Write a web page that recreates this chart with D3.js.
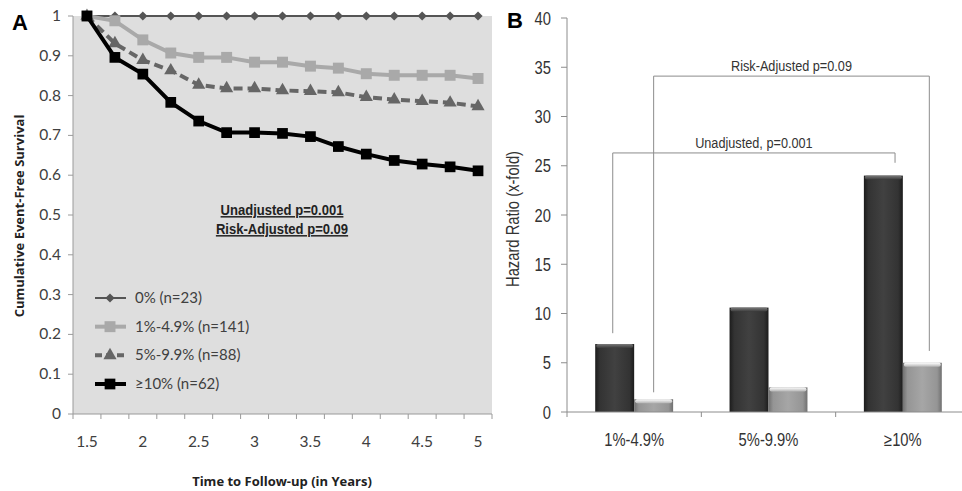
<!DOCTYPE html>
<html>
<head>
<meta charset="utf-8">
<script src="https://cdn.jsdelivr.net/npm/d3@7"></script>
<style>
  body { margin: 0; background: #fff; }
  .chart { width: 962px; height: 491px; }
  .a text { font-family: Lato, "Open Sans", sans-serif; }
  .b text, text.narrow { font-family: "Liberation Sans", Arial, sans-serif; }
</style>
</head>
<body>
<div class="chart"></div>
<script>
// Panel A data: event-free survival by category of time
var timePoints = ["1.5","1.75","2","2.25","2.5","2.75","3","3.25","3.5","3.75","4","4.25","4.5","4.75","5"];
var timeTickLabels = ["1.5","2","2.5","3","3.5","4","4.5","5"];
var survTicks = [0,0.1,0.2,0.3,0.4,0.5,0.6,0.7,0.8,0.9,1];

var surv0  = [1,1,1,1,1,1,1,1,1,1,1,1,1,1,1];
var surv1  = [1,0.988,0.94,0.907,0.896,0.896,0.884,0.884,0.874,0.869,0.855,0.851,0.851,0.851,0.843];
var surv5  = [1,0.931,0.889,0.863,0.827,0.818,0.818,0.813,0.811,0.808,0.796,0.79,0.786,0.782,0.773];
var surv10 = [1,0.896,0.854,0.783,0.736,0.707,0.707,0.705,0.697,0.672,0.653,0.637,0.628,0.621,0.611];
var seriesNames = ["0% (n=23)","1%-4.9% (n=141)","5%-9.9% (n=88)","\u226510% (n=62)"];

// Panel B data: hazard ratios
var hrGroups = ["1%-4.9%","5%-9.9%","\u226510%"];
var hrUnadjusted = [6.9,10.6,24.0];
var hrAdjusted = [1.3,2.5,5.0];
var hrTicks = [0,5,10,15,20,25,30,35,40];
// brackets: [top, left leg end, right leg end]
var unadjBracket = [26.3,8.0,25.3];
var adjBracket = [34.1,2.0,6.2];

const svg = d3.select(".chart").append("svg")
  .attr("width", 962)
  .attr("height", 491);

// condensed text (no narrow font installed, so squeeze Liberation Sans)
function narrow(g, x, y, size, txt, rot, sx){
  return g.append("text")
    .attr("class","narrow")
    .attr("transform", "translate("+x+","+y+") rotate("+(rot||0)+") scale("+(sx||0.82)+",1)")
    .attr("font-size", size)
    .attr("fill", "#333")
    .text(txt);
}

// ---------- Panel A ----------
var gA = svg.append("g").attr("class","a");
var plotA = {left:73, right:492, top:16, bottom:414};

var xA = d3.scaleBand()
        .domain(timePoints)
        .range([plotA.left, plotA.right]);
var yA = d3.scaleLinear()
        .domain([0,1])
        .range([plotA.bottom, plotA.top]);

gA.append("rect")
  .attr("x", plotA.left).attr("y", plotA.top)
  .attr("width", plotA.right-plotA.left).attr("height", plotA.bottom-plotA.top)
  .attr("fill", "#dedede");

// y axis
gA.append("line")
  .attr("x1", plotA.left).attr("x2", plotA.left)
  .attr("y1", plotA.top).attr("y2", plotA.bottom)
  .attr("stroke", "#9a9a9a");
gA.selectAll("line.ytick").data(survTicks).enter().append("line")
  .attr("class","ytick")
  .attr("x1", plotA.left-5).attr("x2", plotA.left)
  .attr("y1", function(d){return yA(d);}).attr("y2", function(d){return yA(d);})
  .attr("stroke", "#9a9a9a");
gA.selectAll("text.ylab").data(survTicks).enter().append("text")
  .attr("class","ylab")
  .attr("x", 61)
  .attr("y", function(d){return yA(d)+5;})
  .attr("text-anchor","end")
  .attr("font-size", 15.5)
  .attr("fill", "#404040")
  .text(function(d){return d;});

// x axis
gA.append("line")
  .attr("x1", plotA.left).attr("x2", plotA.right)
  .attr("y1", plotA.bottom).attr("y2", plotA.bottom)
  .attr("stroke", "#9a9a9a");
gA.selectAll("line.xtick").data(timePoints.concat(["end"])).enter().append("line")
  .attr("class","xtick")
  .attr("x1", function(d,i){return plotA.left + i*xA.step();})
  .attr("x2", function(d,i){return plotA.left + i*xA.step();})
  .attr("y1", plotA.bottom).attr("y2", plotA.bottom+5)
  .attr("stroke", "#9a9a9a");
gA.selectAll("text.xlab").data(timeTickLabels).enter().append("text")
  .attr("class","xlab")
  .attr("x", function(d){return xA(d)+xA.bandwidth()/2;})
  .attr("y", 447)
  .attr("text-anchor","middle")
  .attr("font-size", 15.5)
  .attr("fill", "#404040")
  .text(function(d){return d;});

gA.append("text")
  .attr("x", 282).attr("y", 486)
  .attr("text-anchor","middle")
  .attr("font-size", 13).attr("font-weight","bold")
  .attr("fill", "#222")
  .style("font-family", "'Open Sans',sans-serif")
  .text("Time to Follow-up (in Years)");
gA.append("text")
  .attr("transform", "translate(24,216) rotate(-90)")
  .attr("text-anchor","middle")
  .attr("font-size", 13).attr("font-weight","bold")
  .attr("fill", "#222")
  .style("font-family", "'Open Sans',sans-serif")
  .text("Cumulative Event-Free Survival");

// series styles
var seriesA = [
  {vals:surv0,  color:"#555555", width:2, dash:null,  sym:d3.symbolSquare,   size:42,  rot:45},
  {vals:surv1,  color:"#a9a9a9", width:4, dash:null,  sym:d3.symbolSquare,   size:120, rot:0},
  {vals:surv5,  color:"#666666", width:4, dash:"9,5", sym:d3.symbolTriangle, size:75,  rot:0},
  {vals:surv10, color:"#000000", width:4, dash:null,  sym:d3.symbolSquare,   size:115, rot:0}
];

var line = d3.line()
        .x(function(d,i){return xA(timePoints[i])+xA.bandwidth()/2;})
        .y(function(d){return yA(d);});

[0,1,2,3].forEach(function(k){
  var s = seriesA[k];
  gA.append("path")
    .attr("fill","none")
    .attr("stroke", s.color)
    .attr("stroke-width", s.width)
    .attr("stroke-dasharray", s.dash)
    .attr("d", line(s.vals));
  gA.selectAll("path.m"+k).data(s.vals).enter().append("path")
    .attr("class","m"+k)
    .attr("d", d3.symbol().type(s.sym).size(s.size))
    .attr("fill", s.color)
    .attr("transform", function(d,i){
      return "translate("+(xA(timePoints[i])+xA.bandwidth()/2)+","+yA(d)+") rotate("+s.rot+")";
    });
});

// legend
var legendY = d3.scalePoint().domain(seriesNames).range([298,384]);
seriesNames.forEach(function(name,k){
  var s = seriesA[k];
  var yy = legendY(name);
  gA.append("line")
    .attr("x1", 95).attr("x2", 126)
    .attr("y1", yy).attr("y2", yy)
    .attr("stroke", s.color)
    .attr("stroke-width", s.width)
    .attr("stroke-dasharray", s.dash ? "7,4" : null);
  gA.append("path")
    .attr("d", d3.symbol().type(s.sym).size(s.size))
    .attr("fill", s.color)
    .attr("transform", "translate(110,"+yy+") rotate("+s.rot+")");
  gA.append("text")
    .attr("x", 135).attr("y", yy+5)
    .attr("font-size", 15)
    .attr("fill", "#404040")
    .text(name);
});

// p-value notes
narrow(gA, 282, 215, 15, "Unadjusted p=0.001", 0, 0.87)
  .attr("text-anchor","middle").attr("font-weight","bold")
  .attr("text-decoration","underline").attr("fill","#222");
narrow(gA, 282, 234, 15, "Risk-Adjusted p=0.09", 0, 0.87)
  .attr("text-anchor","middle").attr("font-weight","bold")
  .attr("text-decoration","underline").attr("fill","#222");

gA.append("text")
  .attr("x", 12).attr("y", 30)
  .attr("font-size", 22).attr("font-weight","bold")
  .style("font-family", "'Liberation Sans',Arial,sans-serif")
  .text("A");

// ---------- Panel B ----------
var gB = svg.append("g").attr("class","b");
var plotB = {left:567, right:970, top:18, bottom:412};

var defs = svg.append("defs");
function hGrad(id, stops){
  var g = defs.append("linearGradient").attr("id", id)
    .attr("x1","0").attr("x2","1").attr("y1","0").attr("y2","0");
  stops.forEach(function(s){ g.append("stop").attr("offset", s[0]).attr("stop-color", s[1]); });
}
function vGrad(id, stops){
  var g = defs.append("linearGradient").attr("id", id)
    .attr("x1","0").attr("x2","0").attr("y1","0").attr("y2","1");
  stops.forEach(function(s){ g.append("stop").attr("offset", s[0]).attr("stop-color", s[1]); });
}
hGrad("darkBody", [[0,"#1c1c1c"],[0.12,"#333"],[0.5,"#414141"],[0.88,"#333"],[1,"#1c1c1c"]]);
vGrad("darkCap",  [[0,"#7a7a7a"],[1,"#3a3a3a"]]);
hGrad("lightBody",[[0,"#707070"],[0.12,"#959595"],[0.5,"#a6a6a6"],[0.88,"#959595"],[1,"#707070"]]);
vGrad("lightCap", [[0,"#ffffff"],[1,"#b5b5b5"]]);

var x0 = d3.scaleBand()
        .domain(hrGroups)
        .range([plotB.left, plotB.right]);
var x1 = d3.scaleBand()
        .domain(["unadj","adj"])
        .range([x0.bandwidth()*0.21, x0.bandwidth()*0.79]);
var yB = d3.scaleLinear()
        .domain([0,40])
        .range([plotB.bottom, plotB.top]);

var barData = [];
hrGroups.forEach(function(g,i){
  barData.push({group:g, key:"unadj", v:hrUnadjusted[i]});
  barData.push({group:g, key:"adj", v:hrAdjusted[i]});
});

var bars = gB.selectAll("g.bar").data(barData).enter().append("g").attr("class","bar");
bars.append("rect")
  .attr("x", function(d){return x0(d.group)+x1(d.key);})
  .attr("y", function(d){return yB(d.v);})
  .attr("width", x1.bandwidth())
  .attr("height", function(d){return yB(0)-yB(d.v);})
  .attr("fill", function(d){return d.key=="unadj" ? "url(#darkBody)" : "url(#lightBody)";});
bars.append("rect")
  .attr("x", function(d){return x0(d.group)+x1(d.key)+1;})
  .attr("y", function(d){return yB(d.v);})
  .attr("width", x1.bandwidth()-2)
  .attr("height", 4)
  .attr("rx", 2)
  .attr("fill", function(d){return d.key=="unadj" ? "url(#darkCap)" : "url(#lightCap)";});

// axes
gB.append("line")
  .attr("x1", plotB.left).attr("x2", plotB.left)
  .attr("y1", plotB.top).attr("y2", plotB.bottom)
  .attr("stroke", "#8c8c8c");
gB.append("line")
  .attr("x1", plotB.left).attr("x2", plotB.right)
  .attr("y1", plotB.bottom).attr("y2", plotB.bottom)
  .attr("stroke", "#8c8c8c");
gB.selectAll("line.ytick").data(hrTicks).enter().append("line")
  .attr("class","ytick")
  .attr("x1", plotB.left-6).attr("x2", plotB.left)
  .attr("y1", function(d){return yB(d);}).attr("y2", function(d){return yB(d);})
  .attr("stroke", "#8c8c8c");
hrTicks.forEach(function(d){
  narrow(gB, 551, yB(d)+6.5, 18, d).attr("text-anchor","end");
});
gB.selectAll("line.xtick").data(hrGroups).enter().append("line")
  .attr("class","xtick")
  .attr("x1", function(d){return x0(d);}).attr("x2", function(d){return x0(d);})
  .attr("y1", plotB.bottom).attr("y2", plotB.bottom+5)
  .attr("stroke", "#8c8c8c");
hrGroups.forEach(function(d){
  narrow(gB, x0(d)+x0.bandwidth()/2, 446, 18, d).attr("text-anchor","middle");
});

narrow(gB, 519, 219, 18, "Hazard Ratio (x-fold)", -90).attr("text-anchor","middle");

// significance brackets
function bracket(b, leftBar, rightBar, leftFrac, rightFrac, label){
  var xl = x0(hrGroups[leftBar[0]]) + x1(leftBar[1]) + x1.bandwidth()*leftFrac;
  var xr = x0(hrGroups[rightBar[0]]) + x1(rightBar[1]) + x1.bandwidth()*rightFrac;
  gB.append("path")
    .attr("fill","none")
    .attr("stroke","#8c8c8c")
    .attr("d", "M"+xl+","+yB(b[1])+"V"+yB(b[0])+"H"+xr+"V"+yB(b[2]));
  narrow(gB, (xl+xr)/2, yB(b[0])-5, 15.5, label).attr("text-anchor","middle");
}
bracket(unadjBracket, [0,"unadj"], [2,"unadj"], 0.45, 0.8, "Unadjusted, p=0.001");
bracket(adjBracket, [0,"adj"], [2,"adj"], 0.5, 0.68, "Risk-Adjusted p=0.09");

gB.append("text")
  .attr("x", 507).attr("y", 28)
  .attr("font-size", 22).attr("font-weight","bold")
  .style("font-family", "'Liberation Sans',Arial,sans-serif")
  .text("B");
</script>
</body>
</html>
